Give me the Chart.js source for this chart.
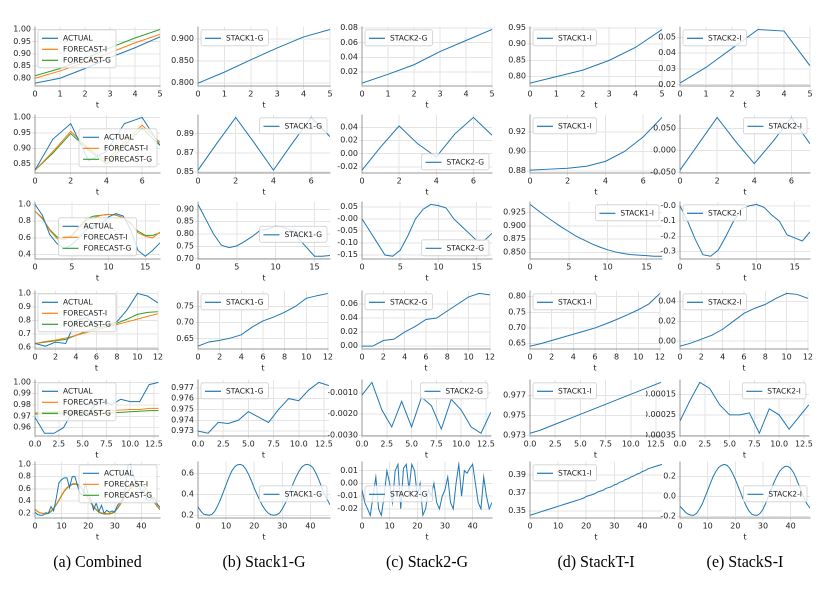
<!DOCTYPE html><html><head><meta charset="utf-8">
<script src="https://cdn.jsdelivr.net/npm/chart.js@4"></script>
<style>body{margin:0;background:#fff;width:824px;height:591px;position:relative;overflow:hidden}
.p{position:absolute}.cap{position:absolute;top:553px;font-size:16px;font-family:"Liberation Serif","DejaVu Serif",serif;text-align:center;width:160px}</style></head><body>
<script>
// ---- data ----
const r1A=[.78,.80,.84,.885,.925,.97], r1FI=[.80,.83,.865,.905,.945,.98], r1FG=[.81,.84,.88,.925,.965,1.0];
const r1b=[.80,.825,.853,.88,.905,.922], r1c=[.005,.017,.03,.048,.063,.078], r1d=[.78,.80,.82,.85,.89,.945], r1e=[.021,.031,.043,.055,.054,.032];
const r2A=[.83,.93,.98,.86,.89,.98,1.0,.91], r2FI=[.83,.89,.955,.90,.86,.92,.975,.92], r2FG=[.83,.885,.948,.895,.85,.91,.965,.91];
const r2b=[.852,.88,.907,.88,.852,.88,.907,.887], r2c=[-.025,.01,.042,.015,-.005,.03,.055,.028], r2d=[.881,.882,.883,.885,.89,.9,.915,.935], r2e=[-.045,.015,.075,.02,-.03,.02,.075,.015];
const r3A=[1.0,.87,.64,.53,.47,.52,.6,.7,.75,.77,.85,.89,.86,.7,.45,.38,.45,.54], r3FI=[.92,.84,.69,.59,.58,.62,.72,.81,.84,.87,.88,.87,.84,.78,.66,.62,.6,.67], r3FG=[.92,.83,.7,.61,.595,.63,.73,.83,.86,.87,.88,.875,.84,.77,.68,.63,.63,.66];
const r3b=[.92,.86,.8,.755,.745,.752,.77,.79,.815,.82,.832,.828,.815,.78,.745,.71,.71,.713], r3c=[0,-.05,-.1,-.15,-.155,-.13,-.07,0,.04,.06,.055,.045,0,-.03,-.06,-.09,-.09,-.06];
const r3d=[.94,.929,.918,.908,.898,.889,.88,.873,.866,.86,.855,.851,.848,.846,.845,.844,.843,.843], r3e=[0,-.1,-.22,-.32,-.33,-.29,-.2,-.1,-.02,0,.01,-.01,-.06,-.1,-.19,-.21,-.23,-.17];
const r4A=[.63,.61,.64,.63,.8,.82,.77,.77,.79,.88,1.0,.98,.93], r4FI=[.63,.645,.655,.67,.69,.71,.73,.75,.77,.79,.81,.83,.85], r4FG=[.63,.64,.65,.66,.69,.72,.745,.76,.78,.81,.845,.86,.865];
const r4b=[.627,.64,.645,.652,.662,.686,.705,.717,.732,.75,.775,.783,.79], r4c=[0,0,.008,.01,.02,.028,.038,.04,.05,.06,.07,.075,.073], r4d=[.642,.65,.66,.67,.68,.69,.70,.713,.727,.742,.758,.777,.81], r4e=[-.005,-.002,.002,.006,.012,.02,.028,.033,.037,.043,.048,.047,.043];
const r5A=[.969,.955,.955,.96,.975,.971,.977,.985,.98,.985,.983,.983,.998,1.0], r5FI=[.973,.9735,.974,.974,.9745,.9745,.975,.975,.975,.9755,.976,.976,.977,.977], r5FG=[.972,.972,.972,.9722,.9723,.9724,.9725,.9727,.973,.9735,.974,.9745,.975,.975];
const r5b=[.973,.9728,.9738,.9737,.974,.9748,.9743,.9738,.975,.976,.9758,.9768,.9775,.9772], r5c=[-.0011,-.0005,-.0018,-.0026,-.0014,-.0026,-.0012,-.0016,-.0027,-.0013,-.0018,-.0026,-.0029,-.0019];
const r5d=[.9732,.9735,.9739,.9743,.9747,.9751,.9755,.9759,.9763,.9767,.9771,.9775,.9779,.9783], r5e=[-.00028,-.00018,-.00009,-.00012,-.0002,-.00025,-.00025,-.00024,-.00034,-.00022,-.00025,-.00032,-.00026,-.0002];
const r6A=[.22,.18,.17,.17,.21,.20,.31,.24,.45,.70,.75,.78,.78,.62,.80,.80,.65,.52,.50,.69,.50,.43,.26,.37,.23,.33,.20,.25,.22,.24,.22,.33,.38,.45,.60,.98,1.0,.80,.70,.68,.55,.58,.42,.40,.46,.45,.35,.30];
const r6FI=[.26,.23,.21,.20,.20,.21,.24,.29,.35,.42,.50,.57,.62,.66,.68,.69,.68,.65,.59,.52,.45,.38,.32,.27,.23,.21,.20,.20,.20,.21,.24,.29,.35,.42,.50,.57,.62,.66,.68,.69,.68,.65,.59,.52,.45,.38,.32,.27];
const r6FG=[.27,.23,.21,.20,.19,.20,.23,.28,.34,.41,.49,.56,.61,.65,.67,.68,.67,.64,.58,.51,.44,.37,.31,.26,.22,.20,.19,.19,.19,.20,.23,.28,.34,.41,.49,.56,.61,.65,.67,.68,.67,.64,.58,.51,.44,.37,.31,.26];
const r6b=[.28,.24,.21,.205,.20,.21,.24,.29,.35,.42,.49,.56,.62,.66,.68,.685,.675,.64,.59,.53,.46,.40,.34,.29,.25,.22,.205,.20,.205,.22,.26,.31,.37,.44,.51,.57,.62,.66,.68,.685,.675,.65,.60,.54,.47,.40,.35,.30];
const r6c=[-.005,-.015,-.02,-.025,-.01,.005,-.02,-.025,-.01,.01,0,-.015,.01,.015,-.02,.012,.015,-.005,.015,.01,-.01,0,-.025,-.02,-.005,-.01,0,-.015,-.02,-.01,-.005,.005,-.015,-.02,0,.015,-.01,.01,.008,.012,.015,0,-.015,-.02,.005,-.01,-.02,-.015];
const r6d=[.345,.346,.347,.348,.349,.350,.351,.352,.353,.354,.355,.356,.357,.358,.359,.360,.361,.362,.363,.364,.366,.367,.368,.369,.371,.372,.373,.375,.376,.377,.379,.380,.382,.383,.385,.386,.388,.389,.391,.392,.394,.395,.397,.398,.399,.400,.401,.402];
const r6e=[-.10,-.13,-.16,-.18,-.19,-.19,-.17,-.13,-.08,-.01,.06,.13,.20,.25,.29,.31,.32,.31,.28,.23,.17,.10,.03,-.04,-.10,-.15,-.18,-.19,-.19,-.17,-.13,-.07,0,.07,.14,.20,.25,.28,.30,.30,.28,.24,.18,.11,.04,-.03,-.08,-.12];
const xSteps=[1,2,5,2,2.5,10];
const captions=["(a) Combined","(b) Stack1-G","(c) Stack2-G","(d) StackT-I","(e) StackS-I"];
const stackNames=["STACK1-G","STACK2-G","STACK1-I","STACK2-I"];
const rows=[[r1A,r1FI,r1FG,r1b,r1c,r1d,r1e],[r2A,r2FI,r2FG,r2b,r2c,r2d,r2e],[r3A,r3FI,r3FG,r3b,r3c,r3d,r3e],[r4A,r4FI,r4FG,r4b,r4c,r4d,r4e],[r5A,r5FI,r5FG,r5b,r5c,r5d,r5e],[r6A,r6FI,r6FG,r6b,r6c,r6d,r6e]];
const legPos=[["tl","tl","tl","tl","tl"],["mr","tr","br","tl","tr"],["bc","mr","br","tr","tl"],["tl","tl","tl","tl","tl"],["tl","tl","tr","tl","tr"],["tr","mr","ml","tl","mr"]];
// ---- layout ----
const colL=[35,198,362,530,680], colR=[160,330,492,662,810];
const rowT=[25,113,200,289,378,460], rowB=[90,177,263,353,440,522];
const C=['#1f77b4','#ff7f0e','#2ca02c'];
Chart.defaults.font.family='"DejaVu Sans"';Chart.defaults.font.size=8;Chart.defaults.color='#222';
function niceStep(range){const raw=range/4,p=Math.pow(10,Math.floor(Math.log10(raw))),m=raw/p;return (m<1.5?1:m<2.25?2:m<3.5?2.5:m<7.5?5:10)*p;}
const legPlugin={id:'myleg',afterDraw(ch,a,o){
 const ctx=ch.ctx,ca=ch.chartArea,ds=ch.data.datasets;ctx.save();ctx.font='7.5px "DejaVu Sans"';
 const lh=11,tw=Math.max(...ds.map(d=>ctx.measureText(d.label).width)),bw=tw+30,bh=ds.length*lh+5;
 const p=o.pos;let x=p[1]=='l'?ca.left+3:p[1]=='r'?ca.right-bw-3:(ca.left+ca.right-bw)/2;
 let y=p[0]=='t'?ca.top+3:p[0]=='b'?ca.bottom-bh-3:(ca.top+ca.bottom-bh)/2+4;
 ctx.fillStyle='rgba(255,255,255,0.8)';ctx.strokeStyle='#d0d0d0';ctx.lineWidth=0.8;ctx.beginPath();ctx.roundRect(x,y,bw,bh,2);ctx.fill();ctx.stroke();
 ds.forEach((d,i)=>{const yy=y+4+lh*i+lh/2-1;ctx.strokeStyle=d.borderColor;ctx.lineWidth=1.2;ctx.beginPath();ctx.moveTo(x+4,yy);ctx.lineTo(x+20,yy);ctx.stroke();
  ctx.fillStyle='#222';ctx.textBaseline='middle';ctx.fillText(d.label,x+25,yy);});ctx.restore();}};
rows.forEach((r,ri)=>{
 for(let ci=0;ci<5;ci++){
  const yw=34, left=colL[ci]-yw, w=colR[ci]-left+4, top=rowT[ri]-4, h=rowB[ri]-top+20;
  const cv=document.createElement('canvas');cv.className='p';cv.style.left=left+'px';cv.style.top=top+'px';cv.style.width=w+'px';cv.style.height=h+'px';
  document.body.appendChild(cv);
  const n=r[0].length, pts=a=>a.map((v,i)=>({x:i,y:v}));
  const ds=ci==0?[["ACTUAL",r[0],C[0]],["FORECAST-I",r[1],C[1]],["FORECAST-G",r[2],C[2]]]:[[stackNames[ci-1],r[ci+2],C[0]]];
  const all=ds.flatMap(d=>d[1]),lo=Math.min(...all),hi=Math.max(...all),pad=(hi-lo)*0.05;
  const ymin=lo-pad,ymax=hi+pad,ys=niceStep(hi-lo);
  const step=xSteps[ri];
  new Chart(cv,{type:'line',data:{datasets:ds.map(d=>({label:d[0],data:pts(d[1]),borderColor:d[2],backgroundColor:d[2],borderWidth:1,pointRadius:0,tension:0}))},
   plugins:[legPlugin],
   options:{responsive:false,animation:false,devicePixelRatio:2,layout:{padding:{right:4,top:4}},
    plugins:{legend:{display:false},tooltip:{enabled:false},myleg:{pos:legPos[ri][ci]}},
    scales:{x:{type:'linear',min:0,max:n-1,afterBuildTicks:s=>{const t=[];for(let v=0;v<=n-1+1e-9;v+=step)t.push({value:v});s.ticks=t;},
      ticks:{maxRotation:0,padding:1,callback:v=>step==2.5?v.toFixed(1):v},grid:{color:'#e4e4e4',tickLength:3},border:{color:'#999'},title:{display:true,text:'t',padding:0}},
     y:{min:ymin,max:ymax,afterBuildTicks:s=>{const t=[];for(let v=Math.ceil(ymin/ys-1e-9)*ys;v<=ymax+1e-12;v+=ys)t.push({value:+v.toPrecision(10)});s.ticks=t;},
      ticks:{padding:1,callback:v=>{const d=Math.max(0,-Math.floor(Math.log10(ys)+1e-9))+(ys/Math.pow(10,Math.floor(Math.log10(ys)))==2.5?1:0);return v.toFixed(d);}},
      grid:{color:'#e4e4e4',tickLength:3},border:{color:'#999'},afterFit:s=>{s.width=yw}}}}});
 }
});
captions.forEach((c,i)=>{const d=document.createElement('div');d.className='cap';d.textContent=c;d.style.left=((colL[i]+colR[i])/2-80)+'px';document.body.appendChild(d);});
</script></body></html>
